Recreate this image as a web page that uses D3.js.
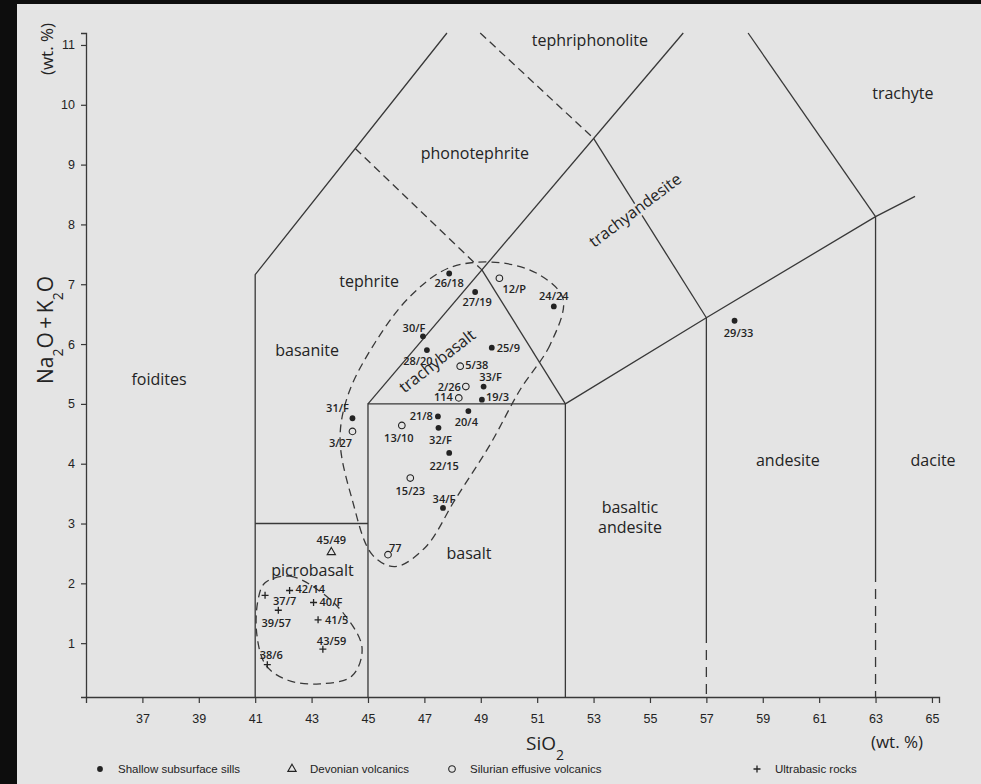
<!DOCTYPE html>
<html>
<head>
<meta charset="utf-8">
<script src="https://cdn.jsdelivr.net/npm/d3@7/dist/d3.min.js"></script>
<style>
  html, body { margin: 0; padding: 0; background: #e3e3e3; }
  svg { display: block; }
</style>
</head>
<body>
<svg id="chart" width="981" height="784"></svg>
<script>
// ---- axis ticks ----
const xTicks = [37, 39, 41, 43, 45, 47, 49, 51, 53, 55, 57, 59, 61, 63, 65];
const yTicks = [1, 2, 3, 4, 5, 6, 7, 8, 9, 10, 11];

// ---- samples: SiO2 (wt.%) and Na2O+K2O (wt.%) ----
const sills = [
  { id: "26/18", sio2: 47.88, alk: 7.18 },
  { id: "27/19", sio2: 48.80, alk: 6.87 },
  { id: "24/24", sio2: 51.59, alk: 6.63 },
  { id: "30/F",  sio2: 46.95, alk: 6.13 },
  { id: "28/20", sio2: 47.09, alk: 5.90 },
  { id: "25/9",  sio2: 49.39, alk: 5.94 },
  { id: "33/F",  sio2: 49.10, alk: 5.29 },
  { id: "19/3",  sio2: 49.04, alk: 5.07 },
  { id: "21/8",  sio2: 47.48, alk: 4.79 },
  { id: "20/4",  sio2: 48.56, alk: 4.88 },
  { id: "32/F",  sio2: 47.50, alk: 4.60 },
  { id: "22/15", sio2: 47.88, alk: 4.18 },
  { id: "31/F",  sio2: 44.45, alk: 4.76 },
  { id: "34/F",  sio2: 47.66, alk: 3.26 },
  { id: "29/33", sio2: 58.00, alk: 6.39 }
];
const devonian = [
  { id: "45/49", sio2: 43.70, alk: 2.52 }
];
const silurian = [
  { id: "12/P",  sio2: 49.66, alk: 7.10 },
  { id: "5/38",  sio2: 48.27, alk: 5.63 },
  { id: "2/26",  sio2: 48.47, alk: 5.29 },
  { id: "114",   sio2: 48.22, alk: 5.10 },
  { id: "13/10", sio2: 46.20, alk: 4.64 },
  { id: "3/27",  sio2: 44.45, alk: 4.54 },
  { id: "15/23", sio2: 46.50, alk: 3.76 },
  { id: "77",    sio2: 45.71, alk: 2.48 }
];
const ultrabasic = [
  { id: "42/14", sio2: 42.22, alk: 1.88 },
  { id: "37/7",  sio2: 41.35, alk: 1.80 },
  { id: "40/F",  sio2: 43.07, alk: 1.68 },
  { id: "41/5",  sio2: 43.23, alk: 1.39 },
  { id: "39/57", sio2: 41.82, alk: 1.55 },
  { id: "38/6",  sio2: 41.43, alk: 0.64 },
  { id: "43/59", sio2: 43.40, alk: 0.90 }
];

// ---- TAS field boundaries (SiO2, Na2O+K2O) ----
const solidBoundaries = [
  [[41, 0.1], [41, 7.16], [47.8, 11.2]],
  [[41, 3], [45, 3]],
  [[45, 0.1], [45, 5], [52, 5], [52, 0.1]],
  [[45, 5], [56.18, 11.2]],
  [[52, 5], [49.04, 7.24]],
  [[52, 5], [57, 6.44], [63, 8.13], [64.4, 8.47]],
  [[57, 6.44], [57, 1.17]],
  [[63, 8.13], [63, 2.19]],
  [[53, 9.44], [57, 6.44]],
  [[58.48, 11.2], [63, 8.13]]
];
const dashedBoundaries = [
  [[44.55, 9.27], [49.04, 7.24]],
  [[48.98, 11.2], [53, 9.44]]
];
const lowerDashedBoundaries = [
  [[57, 1.17], [57, 0.1]],
  [[63, 2.19], [63, 0.1]]
];

// ---- hand-drawn groupings ----
const basaltEnvelope = [
  [51.92, 6.75], [51.46, 5.99], [50.40, 5.24], [49.33, 4.32], [48.09, 3.40],
  [47.03, 2.60], [45.96, 2.28], [45.15, 2.48], [44.44, 3.40], [44.01, 4.40],
  [44.30, 5.16], [45.26, 6.03], [46.50, 6.80], [47.91, 7.28], [49.69, 7.36],
  [51.11, 7.15]
];
const ultrabasicEnvelope = [
  [41.35, 2.01], [42.23, 2.12], [43.23, 1.89], [44.18, 1.47], [44.79, 0.92],
  [44.43, 0.45], [43.30, 0.32], [42.16, 0.38], [41.38, 0.63], [41.06, 1.14],
  [41.10, 1.72]
];

// ---- field names ----
const fieldNames = [
  { text: "tephriphonolite", sio2: 52.87, alk: 10.98 },
  { text: "trachyte",        sio2: 63.97, alk: 10.10 },
  { text: "phonotephrite",   sio2: 48.79, alk: 9.09 },
  { text: "tephrite",        sio2: 45.04, alk: 6.95 },
  { text: "basanite",        sio2: 42.84, alk: 5.80 },
  { text: "foidites",        sio2: 37.59, alk: 5.32 },
  { text: "andesite",        sio2: 59.89, alk: 3.96 },
  { text: "dacite",          sio2: 65.04, alk: 3.96 },
  { text: "basaltic",        sio2: 54.29, alk: 3.18 },
  { text: "andesite",        sio2: 54.29, alk: 2.84 },
  { text: "basalt",          sio2: 48.58, alk: 2.41 },
  { text: "picrobasalt",     sio2: 43.03, alk: 2.12 }
];
const slantedNames = [
  { text: "trachybasalt",   sio2: 47.48, alk: 5.70, angle: -38, knockout: false },
  { text: "trachyandesite", sio2: 54.50, alk: 8.22, angle: -37, knockout: true }
];

// sample label placement relative to the marker (px)
const labelPlacement = {
  "26/18": [0, 14, "middle"], "27/19": [2, 14, "middle"], "24/24": [0, -6, "middle"],
  "30/F": [-9, -4, "middle"], "28/20": [-9, 15, "middle"], "25/9": [5, 4, "start"],
  "33/F": [7, -6, "middle"], "19/3": [4, 1, "start"], "21/8": [-5, 4, "end"],
  "20/4": [-2, 15, "middle"], "32/F": [2, 16, "middle"], "22/15": [-5, 17, "middle"],
  "31/F": [-15, -6, "middle"], "34/F": [1, -5, "middle"], "29/33": [4, 16, "middle"],
  "45/49": [0, -8, "middle"],
  "12/P": [3, 15, "start"], "5/38": [5, 3, "start"], "2/26": [-5, 4, "end"],
  "114": [-6, 3, "end"], "13/10": [-3, 17, "middle"], "3/27": [-12, 16, "middle"],
  "15/23": [0, 17, "middle"], "77": [1, -3, "start"],
  "42/14": [6, 2, "start"], "37/7": [8, 10, "start"], "40/F": [6, 4, "start"],
  "41/5": [7, 4, "start"], "39/57": [-2, 17, "middle"], "38/6": [4, -6, "middle"],
  "43/59": [-6, -4, "start"]
};

// ---- drawing ----
const BG = "#e4e4e4", INK = "#232323", LINE = "#383838";
const svg = d3.select("#chart");
const x = d3.scaleLinear().domain([35, 65.25]).range([86, 939]);
const y = d3.scaleLinear().domain([0.1, 11.2]).range([697, 33]);

svg.append("rect").attr("width", 981).attr("height", 784).attr("fill", BG);
svg.append("rect").attr("width", 17).attr("height", 784).attr("fill", "#0d0d0d");
svg.append("rect").attr("width", 981).attr("height", 4).attr("fill", "#0d0d0d");

const line = d3.line().x(d => x(d[0])).y(d => y(d[1]));
const g = svg.append("g").attr("fill", "none").attr("stroke", LINE).attr("stroke-width", 1.3);

solidBoundaries.forEach(p => g.append("path").attr("d", line(p)));
dashedBoundaries.forEach(p => g.append("path").attr("d", line(p)).attr("stroke-dasharray", "8,5"));
lowerDashedBoundaries.forEach(p => g.append("path").attr("d", line(p)).attr("stroke-dasharray", "10,7"));

const closed = d3.line().x(d => x(d[0])).y(d => y(d[1])).curve(d3.curveCatmullRomClosed.alpha(0.5));
g.append("path").attr("d", closed(basaltEnvelope)).attr("stroke-dasharray", "8,5");
g.append("path").attr("d", closed(ultrabasicEnvelope)).attr("stroke-dasharray", "8,5");

// axes
const xAxis = d3.axisBottom(x).tickValues(xTicks).tickSize(6).tickPadding(11).tickFormat(d3.format("d"));
const yAxis = d3.axisLeft(y).tickValues(yTicks).tickSize(5).tickPadding(6).tickFormat(d3.format("d"));
const gx = svg.append("g").attr("transform", `translate(0,${y.range()[0]})`).call(xAxis);
const gy = svg.append("g").attr("transform", `translate(${x.range()[0]},0)`).call(yAxis);
[gx, gy].forEach(a => {
  a.select(".domain").attr("stroke", LINE).attr("stroke-width", 1.3);
  a.selectAll(".tick line").attr("stroke", LINE).attr("stroke-width", 1.2);
  a.selectAll(".tick text").attr("fill", INK)
    .style("font-family", "'Liberation Sans Narrow', 'Liberation Sans', sans-serif")
    .style("font-size", "12.5px");
});

// field names
const fieldFont = "'Open Sans', 'Noto Sans', sans-serif";
svg.append("g").selectAll("text").data(fieldNames).join("text")
  .attr("x", d => x(d.sio2)).attr("y", d => y(d.alk))
  .attr("text-anchor", "middle").attr("fill", INK)
  .style("font-family", fieldFont).style("font-size", "16px")
  .text(d => d.text);

svg.append("g").selectAll("text").data(slantedNames).join("text")
  .attr("transform", d => `translate(${x(d.sio2)},${y(d.alk)}) rotate(${d.angle})`)
  .attr("text-anchor", "middle").attr("dominant-baseline", "middle").attr("fill", INK)
  .attr("stroke", d => d.knockout ? BG : "none").attr("stroke-width", 5).attr("paint-order", "stroke")
  .style("font-family", fieldFont).style("font-size", "16px")
  .text(d => d.text);

// markers
const symbols = {
  sills:      sel => sel.append("circle").attr("r", 2.9).attr("fill", INK),
  devonian:   sel => sel.append("path").attr("d", d3.symbol(d3.symbolTriangle, 30)()).attr("fill", "none").attr("stroke", INK).attr("stroke-width", 1.1),
  silurian:   sel => sel.append("circle").attr("r", 3.3).attr("fill", "none").attr("stroke", INK).attr("stroke-width", 1.1),
  ultrabasic: sel => sel.append("path").attr("d", "M-3.5,0H3.5M0,-3.5V3.5").attr("stroke", INK).attr("stroke-width", 1.3)
};
const groups = { sills, devonian, silurian, ultrabasic };
const labelLayer = svg.append("g").attr("fill", INK)
  .style("font-family", fieldFont).style("font-size", "11px").style("font-weight", "600");

Object.entries(groups).forEach(([key, data]) => {
  data.forEach(d => {
    const px = x(d.sio2), py = y(d.alk);
    const m = svg.append("g").attr("transform", `translate(${px},${py})`);
    symbols[key](m);
    const [dx, dy, anchor] = labelPlacement[d.id];
    labelLayer.append("text").attr("x", px + dx).attr("y", py + dy)
      .attr("text-anchor", anchor).text(d.id);
  });
});

// axis titles
const title = svg.append("g").attr("fill", INK).style("font-family", fieldFont);
const yt = title.append("text").attr("transform", "translate(53,330) rotate(-90)")
  .attr("text-anchor", "middle").style("font-size", "21px");
yt.append("tspan").text("Na");
yt.append("tspan").text("2").attr("baseline-shift", "sub").style("font-size", "14px");
yt.append("tspan").text("O\u2009+\u2009K");
yt.append("tspan").text("2").attr("baseline-shift", "sub").style("font-size", "14px");
yt.append("tspan").text("O");
title.append("text").attr("transform", "translate(53,49) rotate(-90)")
  .attr("text-anchor", "middle").style("font-size", "17px").text("(wt. %)");

const xt = title.append("text").attr("x", 545).attr("y", 750).attr("text-anchor", "middle").style("font-size", "19px");
xt.append("tspan").text("SiO");
xt.append("tspan").text("2").attr("baseline-shift", "sub").style("font-size", "14px");
title.append("text").attr("x", 897).attr("y", 748).attr("text-anchor", "middle").style("font-size", "17px").text("(wt. %)");

// legend
const legendItems = [
  { key: "sills", label: "Shallow subsurface sills", at: 100 },
  { key: "devonian", label: "Devonian volcanics", at: 292 },
  { key: "silurian", label: "Silurian effusive volcanics", at: 452 },
  { key: "ultrabasic", label: "Ultrabasic rocks", at: 757 }
];
const legend = svg.append("g");
legendItems.forEach(it => {
  const m = legend.append("g").attr("transform", `translate(${it.at},769)`);
  symbols[it.key](m);
  legend.append("text").attr("x", it.at + 18).attr("y", 773).attr("fill", INK)
    .style("font-family", "'Liberation Sans Narrow', 'Liberation Sans', sans-serif")
    .style("font-size", "11.5px").text(it.label);
});
</script>
</body>
</html>
